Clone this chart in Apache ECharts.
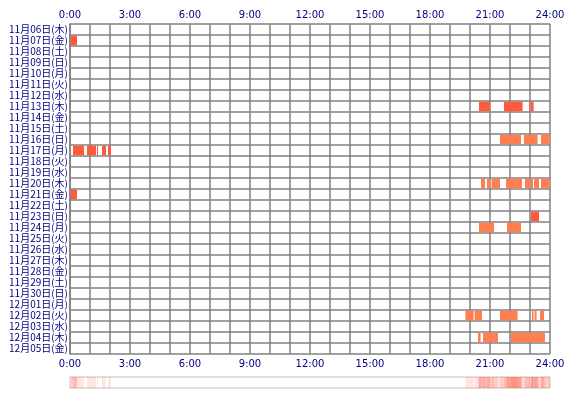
<!DOCTYPE html>
<html><head><meta charset="utf-8">
<script src="https://cdn.jsdelivr.net/npm/echarts@6/dist/echarts.min.js"></script>
<style>html,body{margin:0;padding:0;background:#fff}#c{width:570px;height:400px}</style>
</head><body><div id="c"></div>
<script>
const days = ["11月06日(木)","11月07日(金)","11月08日(土)","11月09日(日)","11月10日(月)","11月11日(火)","11月12日(水)","11月13日(木)","11月14日(金)","11月15日(土)","11月16日(日)","11月17日(月)","11月18日(火)","11月19日(水)","11月20日(木)","11月21日(金)","11月22日(土)","11月23日(日)","11月24日(月)","11月25日(火)","11月26日(水)","11月27日(木)","11月28日(金)","11月29日(土)","11月30日(日)","12月01日(月)","12月02日(火)","12月03日(水)","12月04日(木)","12月05日(金)"];
const hourTicks = ["0:00","3:00","6:00","9:00","12:00","15:00","18:00","21:00","24:00"];
// [dayIndex, startHour, endHour]
const seg0707 = [[1,0.03,0.35]];
const seg1113 = [[7,20.45,21.0],[7,21.7,22.63],[7,22.95,23.0],[7,23.05,23.18]];
const seg1116 = [[10,21.5,22.55],[10,22.7,23.38],[10,23.55,24]];
const seg1117 = [[11,0.15,0.7],[11,0.85,1.3],[11,1.35,1.4],[11,1.6,1.8],[11,1.9,2.05]];
const seg1120 = [[14,20.55,20.75],[14,20.85,21.0],[14,21.08,21.5],[14,21.8,22.6],[14,22.75,23.0],[14,23.05,23.15],[14,23.2,23.45],[14,23.55,24]];
const seg1121 = [[15,0.05,0.35]];
const seg1123 = [[17,23.05,23.45]];
const seg1124 = [[18,20.45,21.2],[18,21.85,22.55]];
const seg1202 = [[26,19.77,20.18],[26,20.23,20.6],[26,21.5,22.38],[26,23.1,23.18],[26,23.23,23.33],[26,23.5,23.7]];
const seg1204 = [[28,20.4,20.53],[28,20.65,21.4],[28,22.05,23.75]];
const segments = [].concat(seg0707,seg1113,seg1116,seg1117,seg1120,seg1121,seg1123,seg1124,seg1202,seg1204);
const redDays = new Set([1,7,11,15,17]);

const navy = '#000080', grid = '#808080';
const hourLabel = v => (v % 3 === 0) ? hourTicks[v/3] : '';
const chart = echarts.init(document.getElementById('c'));
chart.setOption({
  animation:false,
  grid:[{left:70,right:20,top:24,height:330,containLabel:false},
        {left:70,right:20,top:377,height:11,show:true,borderColor:'#c0c0c0',borderWidth:1}],
  xAxis:[
    {gridIndex:0,type:'value',min:0,max:24,interval:1,position:'top',
     axisLine:{show:false},axisTick:{show:false},
     axisLabel:{color:navy,fontSize:10,fontFamily:'DejaVu Sans',formatter:hourLabel,margin:4,showMaxLabel:true},
     splitLine:{lineStyle:{color:grid,width:1.5}}},
    {gridIndex:0,type:'value',min:0,max:24,interval:1,position:'bottom',
     axisLine:{show:false},axisTick:{show:false},
     axisLabel:{color:navy,fontSize:10,fontFamily:'DejaVu Sans',formatter:hourLabel,margin:5,showMaxLabel:true},
     splitLine:{show:false}},
    {gridIndex:1,type:'value',min:0,max:24,show:false}
  ],
  yAxis:[
    {gridIndex:0,type:'category',data:days,inverse:true,
     axisLine:{lineStyle:{color:grid,width:1.5}},axisTick:{show:false},
     axisLabel:{color:navy,fontSize:10,fontFamily:'Noto Sans CJK JP',margin:2,interval:0},
     splitLine:{show:true,interval:0,lineStyle:{color:grid,width:1.5}}},
    {gridIndex:1,type:'category',data:['all'],show:false}
  ],
  series:[
    {type:'custom',xAxisIndex:0,yAxisIndex:0,data:segments,
     renderItem:(p,api)=>{
       const d=api.value(0), s=api.coord([api.value(1),d]), e=api.coord([api.value(2),d]);
       const h=api.size([0,1])[1];
       return {type:'rect',shape:{x:s[0],y:s[1]-h/2+0.75,width:e[0]-s[0],height:h-1.5},
         style:{fill:redDays.has(d)?'#ff5a3c':'#ff7f50'}};
     },encode:{x:[1,2],y:0}},
    {type:'custom',xAxisIndex:2,yAxisIndex:1,data:segments.map(s=>[0,s[1],s[2]]),
     renderItem:(p,api)=>{
       const s=api.coord([api.value(1),0]), e=api.coord([api.value(2),0]);
       const h=api.size([0,1])[1];
       return {type:'rect',shape:{x:s[0],y:s[1]-h/2,width:e[0]-s[0],height:h},
         style:{fill:'rgba(255,90,60,0.16)'}};
     }}
  ]
});
</script></body></html>
